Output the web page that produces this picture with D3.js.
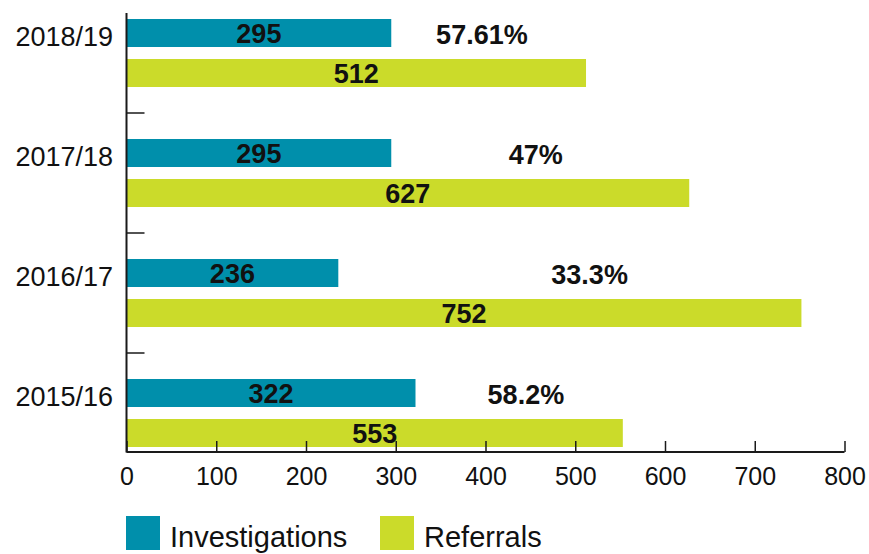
<!DOCTYPE html>
<html>
<head>
<meta charset="utf-8">
<script src="https://cdn.jsdelivr.net/npm/d3@7"></script>
<style>
  html, body { margin: 0; padding: 0; background: #fff; }
  svg { display: block; }
  text { font-family: "Liberation Sans", Arial, sans-serif; fill: #111; }
</style>
</head>
<body>
<svg id="chart" width="869" height="554"></svg>
<script>
// ---- data ----
const categories = ["2018/19", "2017/18", "2016/17", "2015/16"];
const investigations = [295, 295, 236, 322];
const referrals = [512, 627, 752, 553];
const percentLabels = ["57.61%", "47%", "33.3%", "58.2%"];
const percentAnchor = [396, 456, 516, 445]; // label centre, in axis units
const xTicks = [0, 100, 200, 300, 400, 500, 600, 700, 800];
const seriesNames = ["Investigations", "Referrals"];
const seriesColors = ["#008FAB", "#CBDB2A"];

const svg = d3.select("#chart");

const x = d3.scaleLinear().domain([0, 800]).range([126.5, 844.5]);
const y = d3.scaleBand().domain(categories).range([-7, 473]).paddingInner(0).paddingOuter(0);
const inner = d3.scaleBand().domain(seriesNames).range([26, 94]).paddingInner(0.3).paddingOuter(0);

const rows = categories.map((c, i) => ({
  cat: c,
  vals: [investigations[i], referrals[i]],
  pct: percentLabels[i],
  pctX: percentAnchor[i]
}));

// bars
const g = svg.append("g");
rows.forEach(r => {
  r.vals.forEach((v, j) => {
    const yy = y(r.cat) + inner(seriesNames[j]);
    g.append("rect")
      .attr("x", x(0)).attr("y", yy)
      .attr("width", x(v) - x(0)).attr("height", inner.bandwidth())
      .attr("fill", seriesColors[j]);
    g.append("text")
      .attr("x", (x(0) + x(v)) / 2)
      .attr("y", yy + inner.bandwidth() / 2)
      .attr("dy", "0.36em")
      .attr("text-anchor", "middle")
      .style("font-weight", "bold")
      .style("font-size", "27px")
      .text(v);
  });
  // percent label
  const yy = y(r.cat) + inner(seriesNames[0]);
  g.append("text")
    .attr("x", x(r.pctX))
    .attr("y", yy + inner.bandwidth() / 2 + 1)
    .attr("dy", "0.36em")
    .attr("text-anchor", "middle")
    .style("font-weight", "bold")
    .style("font-size", "27px")
    .text(r.pct);
  // category label
  g.append("text")
    .attr("x", 113)
    .attr("y", yy + inner.bandwidth() / 2 + 3)
    .attr("dy", "0.36em")
    .attr("text-anchor", "end")
    .style("font-size", "27px")
    .text(r.cat);
});

// y axis line and category separators
const axisColor = "#1a1a1a";
svg.append("line")
  .attr("x1", x(0)).attr("x2", x(0))
  .attr("y1", 13).attr("y2", 452.5)
  .attr("stroke", axisColor).attr("stroke-width", 2);
categories.slice(0, -1).forEach(c => {
  const yy = y(c) + y.step();
  svg.append("line")
    .attr("x1", x(0)).attr("x2", x(0) + 18)
    .attr("y1", yy).attr("y2", yy)
    .attr("stroke", axisColor).attr("stroke-width", 1.5);
});

// x axis
const xAxis = d3.axisBottom(x).tickValues(xTicks).tickSize(-11).tickPadding(0).tickFormat(d3.format("d"));
const xg = svg.append("g").attr("transform", "translate(0,452)").call(xAxis);
xg.select(".domain").attr("stroke", axisColor).attr("stroke-width", 2)
  .attr("d", `M${x(0)},0H${x(800)}`);
xg.selectAll(".tick line").attr("stroke", axisColor).attr("stroke-width", 1.5);
xg.selectAll(".tick text")
  .attr("y", 33)
  .attr("dy", 0)
  .style("font-family", "'Liberation Sans', Arial, sans-serif")
  .style("font-size", "25px")
  .attr("fill", "#111");

// legend
const legendX = [126, 380];
seriesNames.forEach((n, j) => {
  svg.append("rect")
    .attr("x", legendX[j]).attr("y", 516)
    .attr("width", 34).attr("height", 34)
    .attr("fill", seriesColors[j]);
  svg.append("text")
    .attr("x", legendX[j] + 44).attr("y", 547)
    .style("font-size", "29px")
    .text(n);
});
</script>
</body>
</html>
